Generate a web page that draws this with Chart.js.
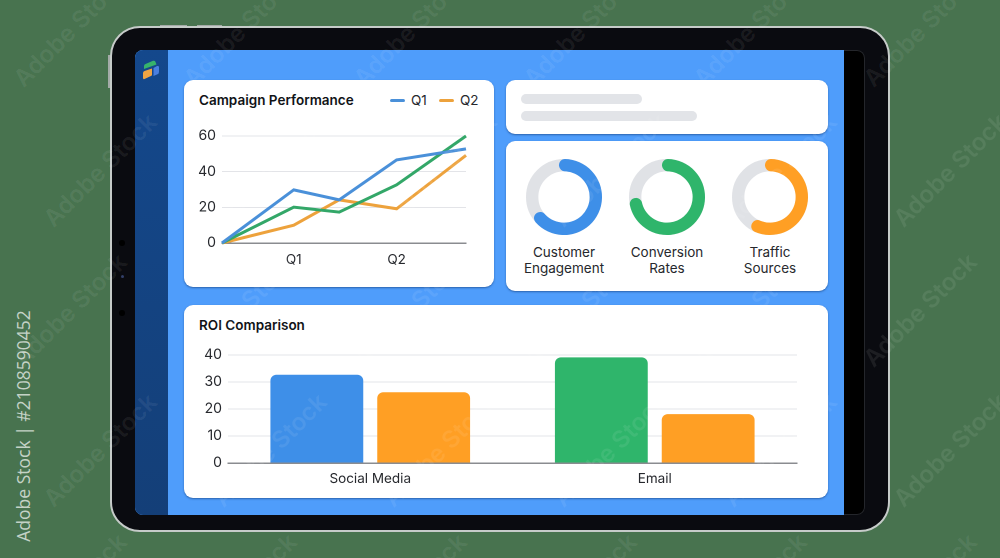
<!DOCTYPE html>
<html lang="en">
<head>
<meta charset="UTF-8">
<title>Campaign dashboard</title>
<script src="https://cdn.jsdelivr.net/npm/chart.js"></script>
<style>
  html, body { margin: 0; padding: 0; }
  body { width: 1000px; height: 558px; overflow: hidden; position: relative; background: #48734f; font-family: Inter, Roboto, sans-serif; color: #1d1f24; }
  body div, body canvas, body span { position: absolute; }
  .btn { background: #a4aba8; }
  .device { left: 110px; top: 26px; width: 776px; height: 502px; border: 2px solid #c6cbc9; border-radius: 30px; background: #0a0b10; }
  .screen { left: 135px; top: 50px; width: 730px; height: 465px; background: #000; border-radius: 8px; box-shadow: inset 0 0 0 1px #24262b; }
  .blue { left: 135px; top: 50px; width: 709px; height: 465px; background: #4f9dfb; border-radius: 8px 0 0 8px; overflow: hidden; }
  .side { left: 0; top: 0; width: 33px; height: 465px; background: linear-gradient(#14488c, #143f78); }
  .dot { width: 6px; height: 6px; border-radius: 50%; background: #000; left: 119px; }
  .card { background: #fff; border-radius: 9px; box-shadow: 0 1px 2px rgba(20, 60, 120, .6); }
  .title { font-weight: 600; font-size: 13.5px; color: #111317; white-space: nowrap; }
  .bar { background: #e2e4e8; height: 10px; border-radius: 5px; }
  .label { width: 110px; text-align: center; font-size: 13.5px; line-height: 16px; color: #26282d; }
  .key { height: 3px; width: 15px; border-radius: 2px; }
  .keytext { font-size: 13.5px; color: #26282d; }
  .mark { color: rgba(255, 255, 255, .08); font-size: 24px; font-weight: 600; white-space: nowrap; transform: translate(-50%, -50%) rotate(-45deg); pointer-events: none; }
  .credit { left: 23px; top: 426px; color: #c4d2c6; font-size: 17.5px; white-space: nowrap; transform: translate(-50%, -50%) rotate(-90deg); font-family: "Open Sans", sans-serif; }
</style>
</head>
<body>
  <div class="btn" style="left:160px;top:24.5px;width:27px;height:1.5px"></div>
  <div class="btn" style="left:197px;top:24.5px;width:25px;height:1.5px"></div>
  <div class="btn" style="left:108px;top:55px;width:2px;height:33px"></div>
  <div class="device"></div>
  <div class="dot" style="top:240px"></div>
  <div class="dot" style="top:275px;width:3px;height:3px;left:121px;background:#33406a"></div>
  <div class="dot" style="top:310px"></div>
  <div class="screen"></div>
  <div class="blue"><div class="side"></div></div>

  <!-- logo -->
  <svg style="position:absolute;left:142px;top:60px" width="18" height="21" viewBox="0 0 18 21">
    <path d="M2 6 Q2 4.5 3.5 4 L11 .8 Q13 .2 13.5 2 L14.5 4.5 L2 9 Z" fill="#37b36c"/>
    <path d="M1 13 Q1 11.5 2.5 11 L10 8.5 L10 14.5 Q10 15.5 9 16 L2.5 19 Q1 19.5 1 18 Z" fill="#f0a543"/>
    <path d="M11.5 8 L15 6 Q17 5.5 17 7 L17 12 Q17 14 15 14.5 L11.5 16 Z" fill="#4a7fe0"/>
  </svg>

  <div class="card" style="left:184px;top:80px;width:310px;height:207px"></div>
  <div class="title" style="left:199px;top:92px">Campaign Performance</div>
  <div class="key" style="left:390px;top:99px;background:#4a90d9"></div>
  <span class="keytext" style="left:411px;top:92px">Q1</span>
  <div class="key" style="left:439px;top:99px;background:#eda23c"></div>
  <span class="keytext" style="left:460px;top:92px">Q2</span>
  <canvas id="lineChart" style="left:184px;top:120px"></canvas>

  <div class="card" style="left:506px;top:80px;width:322px;height:54px"></div>
  <div class="bar" style="left:521px;top:94px;width:121px"></div>
  <div class="bar" style="left:521px;top:111px;width:176px"></div>

  <div class="card" style="left:506px;top:141px;width:322px;height:150px"></div>
  <canvas id="ring0" style="left:524px;top:157px"></canvas>
  <canvas id="ring1" style="left:627px;top:157px"></canvas>
  <canvas id="ring2" style="left:730px;top:157px"></canvas>
  <div class="label" id="label0" style="left:509px;top:244px"></div>
  <div class="label" id="label1" style="left:612px;top:244px"></div>
  <div class="label" id="label2" style="left:715px;top:244px"></div>

  <div class="card" style="left:184px;top:305px;width:644px;height:193px"></div>
  <div class="title" style="left:199px;top:317px">ROI Comparison</div>
  <canvas id="barChart" style="left:184px;top:340px"></canvas>

  <div class="credit">Adobe Stock | #2108590452</div>

<script>
  // line chart, the x positions are not evenly spaced in the picture
  var lineSteps = [0, 30, 49, 73, 102];
  var lineBlue = [0, 29.8, 24.2, 46.6, 52.8];
  var lineGreen = [0, 20.1, 17.3, 32.6, 60];
  var lineOrange = [0, 10, 24.2, 19.2, 49.2];
  var quarterSteps = [30, 73];
  var quarterLabels = ['Q1', 'Q2'];

  // rings
  var ringNames = [['Customer', 'Engagement'], ['Conversion', 'Rates'], ['Traffic', 'Sources']];
  var ringShares = [69, 77, 62];

  // bars
  var barCategories = ['Social Media', 'Email'];
  var barFirst = [32.7, 39.1];
  var barSecond = [26.2, 18.1];

  var tickFont = { family: 'Inter', size: 14 };
  var xFont = { family: 'Inter', size: 13.5 };
  var tickColor = '#26282d';
  var gridColor = '#e3e4e8';
  var axisColor = '#8a8c90';

  Chart.defaults.animation = false;
  Chart.defaults.devicePixelRatio = 2;

  function sizeCanvas(id, w, h) {
    var c = document.getElementById(id);
    c.style.width = w + 'px';
    c.style.height = h + 'px';
    c.width = w;
    c.height = h;
    return c;
  }

  function lineSet(values, color) {
    return {
      data: values.map(function (v, i) { return { x: lineSteps[i], y: v }; }),
      borderColor: color,
      borderWidth: 3,
      pointRadius: 0,
      tension: 0,
      clip: false
    };
  }

  new Chart(sizeCanvas('lineChart', 310, 160), {
    type: 'line',
    data: {
      datasets: [
        lineSet(lineBlue, '#4a90d9'),
        lineSet(lineGreen, '#33a768'),
        lineSet(lineOrange, '#eda23c')
      ]
    },
    options: {
      responsive: false,
      layout: { padding: { top: 16, right: 28 } },
      plugins: { legend: { display: false }, tooltip: { enabled: false } },
      scales: {
        x: {
          type: 'linear',
          min: lineSteps[0],
          max: lineSteps[lineSteps.length - 1],
          afterBuildTicks: function (axis) {
            axis.ticks = quarterSteps.map(function (v) { return { value: v }; });
          },
          afterFit: function (axis) { axis.height = 37; },
          grid: { display: false, drawTicks: false },
          border: { color: axisColor, width: 1.5 },
          ticks: {
            padding: 9,
            autoSkip: false,
            maxRotation: 0,
            color: tickColor,
            font: xFont,
            callback: function (v) { return quarterLabels[quarterSteps.indexOf(v)]; }
          }
        },
        y: {
          min: 0,
          max: 60,
          afterFit: function (axis) { axis.width = 38; },
          grid: { color: gridColor, drawTicks: false },
          border: { display: false },
          ticks: { stepSize: 20, padding: 6, color: tickColor, font: tickFont }
        }
      }
    }
  });

  // grey track behind the coloured arc
  var ringTrack = {
    id: 'ringTrack',
    beforeDatasetsDraw: function (chart) {
      var arc = chart.getDatasetMeta(0).data[0];
      var ctx = chart.ctx;
      ctx.save();
      ctx.beginPath();
      ctx.arc(arc.x, arc.y, (arc.outerRadius + arc.innerRadius) / 2, 0, Math.PI * 2);
      ctx.lineWidth = arc.outerRadius - arc.innerRadius;
      ctx.strokeStyle = '#e0e2e6';
      ctx.stroke();
      ctx.restore();
    }
  };

  var ringColors = ['#3e8fe8', '#2fb56b', '#ff9f24'];
  ringShares.forEach(function (share, i) {
    new Chart(sizeCanvas('ring' + i, 80, 80), {
      type: 'doughnut',
      data: {
        datasets: [{
          data: [share, 100 - share],
          backgroundColor: [ringColors[i], 'rgba(0,0,0,0)'],
          borderWidth: 0,
          borderRadius: 6
        }]
      },
      options: {
        responsive: false,
        rotation: -9,
        radius: 38,
        cutout: 27,
        plugins: { legend: { display: false }, tooltip: { enabled: false } }
      },
      plugins: [ringTrack]
    });
    document.getElementById('label' + i).innerHTML = ringNames[i].join('<br>');
  });

  new Chart(sizeCanvas('barChart', 644, 150), {
    type: 'bar',
    data: {
      labels: barCategories,
      datasets: [
        { data: barFirst, backgroundColor: ['#3e8fe8', '#2fb56b'] },
        { data: barSecond, backgroundColor: ['#ff9f24', '#ff9f24'] }
      ]
    },
    options: {
      responsive: false,
      layout: { padding: { top: 15, right: 31 } },
      datasets: { bar: { categoryPercentage: 0.751, barPercentage: 0.869, borderRadius: 6 } },
      plugins: { legend: { display: false }, tooltip: { enabled: false } },
      scales: {
        x: {
          afterFit: function (axis) { axis.height = 27; },
          grid: { display: false, drawTicks: false },
          border: { color: axisColor, width: 1.5 },
          ticks: { padding: 8, maxRotation: 0, color: tickColor, font: xFont }
        },
        y: {
          min: 0,
          max: 40,
          afterFit: function (axis) { axis.width = 44; },
          grid: { color: gridColor, drawTicks: false },
          border: { display: false },
          ticks: { stepSize: 10, padding: 6, color: tickColor, font: tickFont }
        }
      }
    }
  });

  // faint stock marks across the picture
  for (var r = 0; r < 5; r++) {
    for (var c = 0; c < 7; c++) {
      var m = document.createElement('span');
      m.className = 'mark';
      m.textContent = 'Adobe Stock';
      m.style.left = (70 + c * 170 + (r % 2) * 30) + 'px';
      m.style.top = (30 + r * 140) + 'px';
      document.body.appendChild(m);
    }
  }
</script>
</body>
</html>
